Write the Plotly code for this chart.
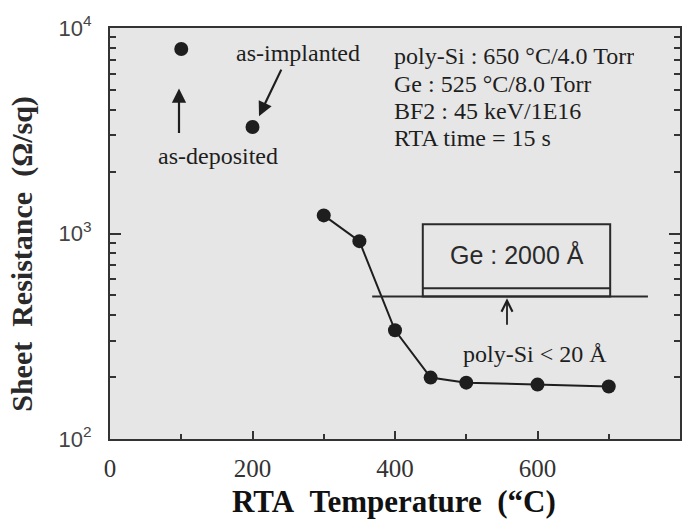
import plotly.graph_objects as go

# Reference states before annealing (unconnected points)
ref_temp = [100, 200]
ref_rs = [7900, 3300]
ref_labels = ["as-deposited", "as-implanted"]

# Sheet resistance after RTA at each temperature
rta_temp = [300, 350, 400, 450, 500, 600, 700]
rta_rs = [1225, 918, 338, 199, 188, 184, 180]

# Process conditions printed in the upper right
conditions = [
    "poly-Si : 650 °C/4.0 Torr",
    "Ge : 525 °C/8.0 Torr",
    "BF2 : 45 keV/1E16",
    "RTA time = 15 s",
]

# Stack schematic (Ge layer on a thin poly-Si layer on the substrate)
ge_box_x = [439, 702]
ge_box_y = [493, 1110]
poly_top_y = 541
substrate_x = [368, 755]
substrate_y = 493

y_tickvals = [100, 1000, 10000]
y_ticktext = ["10<sup>2</sup>", "10<sup>3</sup>", "10<sup>4</sup>"]

W, H = 698, 520
L, R, T, B = 110, 18, 24, 81
PW, PH = W - L - R, H - T - B


def px(x):
    return (x - L) / PW


def py(y):
    return (H - B - y) / PH


SERIF = "Liberation Serif, Times New Roman, serif"
SANS = "Liberation Sans, Arial, sans-serif"
INK = "#1e1e1e"

fig = go.Figure()

fig.add_trace(go.Scatter(
    x=rta_temp, y=rta_rs, mode="lines+markers",
    line=dict(color=INK, width=2),
    marker=dict(color=INK, size=14),
    showlegend=False,
))
fig.add_trace(go.Scatter(
    x=ref_temp, y=ref_rs, mode="markers",
    marker=dict(color=INK, size=14),
    showlegend=False,
))

# Layer schematic
fig.add_shape(type="rect", x0=ge_box_x[0], x1=ge_box_x[1], y0=ge_box_y[0], y1=ge_box_y[1],
              xref="x", yref="y", line=dict(color="#2a2a2a", width=2))
fig.add_shape(type="line", x0=ge_box_x[0], x1=ge_box_x[1], y0=poly_top_y, y1=poly_top_y,
              xref="x", yref="y", line=dict(color="#2a2a2a", width=2))
fig.add_shape(type="line", x0=substrate_x[0], x1=substrate_x[1], y0=substrate_y, y1=substrate_y,
              xref="x", yref="y", line=dict(color="#2a2a2a", width=2))

annotations = []

# Process conditions block
for i, line in enumerate(conditions):
    annotations.append(dict(
        x=px(392), y=py(52 + 27.6 * i), xref="paper", yref="paper",
        text=line, showarrow=False, xanchor="left", yanchor="middle",
        height=27, font=dict(family=SERIF, size=24, color=INK),
    ))


def label(x, y, text, family, size, color=INK, **kw):
    return dict(x=px(x), y=py(y), xref="paper", yref="paper", text=text,
                showarrow=False, xanchor="center", yanchor="middle",
                font=dict(family=family, size=size, color=color), **kw)


def arrow(x, y, ax, ay, head, size, width):
    return dict(x=px(x), y=py(y), xref="paper", yref="paper", text="",
                showarrow=True, ax=ax, ay=ay, arrowhead=head, arrowsize=size,
                arrowwidth=width, arrowcolor=INK)


annotations += [
    label(298, 49, ref_labels[1], SERIF, 24),
    label(218, 153, ref_labels[0], SERIF, 24),
    arrow(179, 85, 0, 46, 2, 1.3, 2.2),
    arrow(259, 113, 23, -48, 2, 1.3, 2.2),
    label(517, 253, "Ge : 2000 Å", SANS, 25, "#2a2a2a"),
    arrow(507, 297, 0, 28, 5, 1.2, 1.8),
    label(535, 353, "poly-Si < 20 Å", SERIF, 24),
    # Axis titles
    label(394, 502, "RTA\u00a0\u00a0Temperature\u00a0\u00a0(“C)", SERIF, 31, "#111"),
    label(22, 252, "Sheet\u00a0\u00a0Resistance\u00a0\u00a0(Ω/sq)", SERIF, 30, "#2a2a2a",
          textangle=-90),
]
annotations[-1]["font"]["weight"] = "bold"
annotations[-2]["font"]["weight"] = "bold"

fig.update_layout(
    width=W, height=H,
    margin=dict(l=L, r=R, t=T, b=B),
    paper_bgcolor="white",
    plot_bgcolor="#e6e6e6",
    annotations=annotations,
    showlegend=False,
)

fig.update_xaxes(
    range=[0, 800], tickvals=[0, 200, 400, 600, 800],
    ticks="inside", ticklen=8, tickwidth=2, tickcolor="#333",
    minor=dict(tickvals=[100, 300, 500, 700], ticks="inside", ticklen=5, tickwidth=2, tickcolor="#333"),
    showline=True, linecolor="#333", linewidth=2, mirror=True,
    showgrid=False, zeroline=False,
    tickfont=dict(family=SERIF, size=25, color="#333"),
    ticklabelstandoff=6,
)
fig.update_yaxes(
    type="log", range=[2, 4], tickvals=y_tickvals, ticktext=y_ticktext,
    ticks="inside", ticklen=11, tickwidth=2, tickcolor="#333",
    minor=dict(dtick="D1", ticks="inside", ticklen=6, tickwidth=1.5, tickcolor="#333"),
    showline=True, linecolor="#333", linewidth=2, mirror="ticks",
    showgrid=False, zeroline=False,
    tickfont=dict(family=SANS, size=22, color="#444"),
    ticklabelstandoff=12,
)

fig.write_html("out.html")
